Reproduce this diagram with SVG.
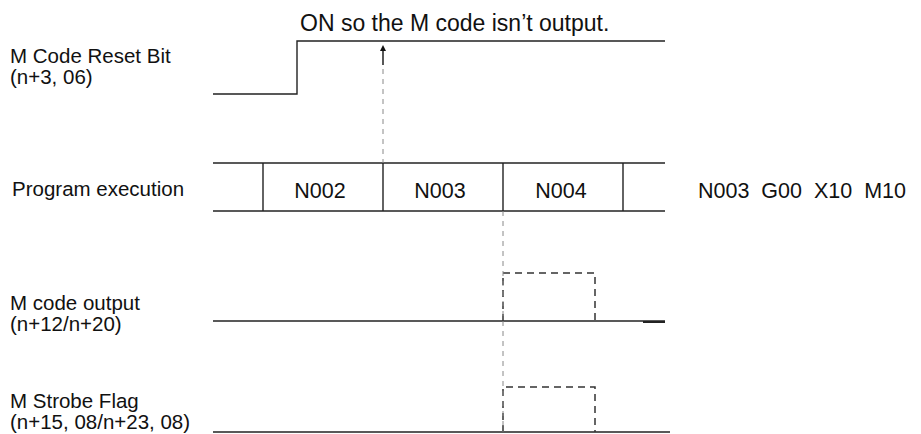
<svg xmlns="http://www.w3.org/2000/svg" width="921" height="434" viewBox="0 0 921 434">
<style>
text{font-family:"Liberation Sans",Arial,sans-serif;font-size:20.5px;fill:#111}
.big{font-size:21.5px}
.sig{stroke:#222;stroke-width:1.4;fill:none}
.guide{stroke:#888;stroke-width:1;stroke-dasharray:5,5;fill:none}
.pulse{stroke:#333;stroke-width:1.5;stroke-dasharray:7,5;fill:none}
</style>
<rect width="921" height="434" fill="#fff"/>
<g id="title"><text x="300" y="31" style="font-size:23px">ON so the M code isn’t output.</text></g>
<g id="reset">
<text x="10" y="63">M Code Reset Bit</text>
<text x="10" y="84">(n+3, 06)</text>
<polyline class="sig" points="213,94 297,94 297,41 665,41"/>
</g>
<g id="program">
<text x="12" y="196">Program execution</text>
<line class="sig" x1="213" y1="163" x2="665" y2="163"/>
<line class="sig" x1="213" y1="211" x2="665" y2="211"/>
<line class="sig" x1="263" y1="163" x2="263" y2="211"/>
<line class="sig" x1="383" y1="163" x2="383" y2="211"/>
<line class="sig" x1="503" y1="163" x2="503" y2="211"/>
<line class="sig" x1="623" y1="163" x2="623" y2="211"/>
<text class="big" x="320" y="198" text-anchor="middle">N002</text>
<text class="big" x="440" y="198" text-anchor="middle">N003</text>
<text class="big" x="561" y="198" text-anchor="middle">N004</text>
<text class="big" x="698" y="198" xml:space="preserve">N003  G00  X10  M10</text>
</g>
<g id="mcode">
<text x="10" y="310">M code output</text>
<text x="10" y="331">(n+12/n+20)</text>
<line class="sig" x1="213" y1="321" x2="665" y2="321"/>
<line class="sig" x1="643" y1="322" x2="665" y2="322" style="stroke-width:2"/>
<polyline class="pulse" points="503,321 503,273 595,273 595,321"/>
</g>
<g id="strobe">
<text x="10" y="408">M Strobe Flag</text>
<text x="10" y="429">(n+15, 08/n+23, 08)</text>
<line class="sig" x1="213" y1="432" x2="670" y2="432"/>
<polyline class="pulse" points="503,432 503,387 595,387 595,432"/>
</g>
<g id="connectors">
<line x1="383" y1="65" x2="383" y2="50" stroke="#111" stroke-width="1.4"/>
<polygon points="383,45 380,51 386,51" fill="#111"/>
<line class="guide" x1="383" y1="69" x2="383" y2="163"/>
<line class="guide" x1="503" y1="211" x2="503" y2="432"/>
</g>
</svg>
